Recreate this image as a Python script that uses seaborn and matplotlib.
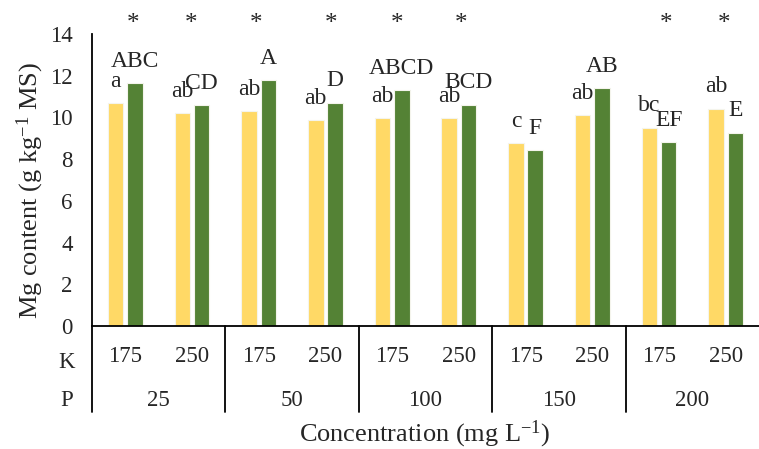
import matplotlib
matplotlib.use("Agg")
import matplotlib.pyplot as plt
import matplotlib.transforms as mtransforms
import seaborn as sns
import pandas as pd

# ---- data ----
P_levels = ["25", "50", "100", "150", "200"]
K_levels = ["175", "250"]
series_names = ["Series 1", "Series 2"]
yellow_vals = [10.68, 10.21, 10.31, 9.86, 9.97, 9.97, 8.77, 10.10, 9.51, 10.42]
green_vals = [11.66, 10.59, 11.79, 10.71, 11.31, 10.61, 8.44, 11.41, 8.81, 9.27]
lower_labels = ["a", "ab", "ab", "ab", "ab", "ab", "c", "ab", "bc", "ab"]
upper_labels = ["ABC", "CD", "A", "D", "ABCD", "BCD", "F", "AB", "EF", "E"]
star_flags = [1, 1, 1, 1, 1, 1, 0, 0, 1, 1]

# ---- layout / style ----
star_dx = [0.11, -0.01, -0.04, 0.08, 0.07, 0.04, 0.0, 0.0, 0.11, -0.02]
YELLOW = "#FFD966"
GREEN = "#548235"

sns.set_style("white")
plt.rcParams["font.family"] = ["Liberation Serif", "DejaVu Serif"]
plt.rcParams["mathtext.fontset"] = "custom"
plt.rcParams["mathtext.rm"] = "Liberation Serif"
plt.rcParams["mathtext.it"] = "Liberation Serif:italic"

slots = [f"P{p}-K{k}" for p in P_levels for k in K_levels]
df = pd.DataFrame({
    "slot": slots * 2,
    "value": yellow_vals + green_vals,
    "series": [series_names[0]] * len(slots) + [series_names[1]] * len(slots),
})

W, H = 759, 449
fig = plt.figure(figsize=(W / 100, H / 100), dpi=100)
ax_left, ax_bottom, ax_top = 92 / W, (H - 326) / H, (H - 34) / H
ax = fig.add_axes([ax_left, ax_bottom, 1 - ax_left, ax_top - ax_bottom])

sns.barplot(data=df, x="slot", y="value", hue="series", order=slots,
            hue_order=series_names, palette=[YELLOW, GREEN], saturation=1,
            width=0.58, gap=0.2, edgecolor="#f4f4ec", linewidth=0.8,
            legend=False, ax=ax)

TICK_FS = 16.5
LAB_FS = 17

ax.set_xlim(-0.5, len(slots) - 0.5)
ax.set_ylim(0, 14)
ax.set_yticks(range(0, 15, 2))
ax.tick_params(axis="y", length=0, pad=14, labelsize=TICK_FS)
ax.set_xticks([])
ax.set_xlabel("")
ax.set_ylabel("")
for s in ["top", "right"]:
    ax.spines[s].set_visible(False)
ax.spines["left"].set_color("black")
ax.spines["left"].set_linewidth(1.3)
ax.spines["bottom"].set_color("black")
ax.spines["bottom"].set_linewidth(1.3)

# bar labels, from bar patches
bars = [p for p in ax.patches]
n = len(slots)
ybars, gbars = bars[:n], bars[n:]
for i in range(n):
    yb, gb = ybars[i], gbars[i]
    ax.text(yb.get_x() + yb.get_width() / 2, yb.get_height() + 0.78,
            lower_labels[i], ha="center", va="baseline", fontsize=LAB_FS)
    ax.text(gb.get_x() + gb.get_width() / 2, gb.get_height() + 0.78,
            upper_labels[i], ha="center", va="baseline", fontsize=LAB_FS)
    if star_flags[i]:
        ax.text(i + star_dx[i], 14.2, "*", ha="center", va="baseline",
                fontsize=18, clip_on=False)

# category table below axis
trans = mtransforms.blended_transform_factory(ax.transData, ax.transAxes)
px = 1 / (326 - 34)  # axes fraction per pixel vertically
bottom_line = -(412 - 326) * px
for xb in [-0.5, 1.5, 3.5, 5.5, 7.5]:
    ax.plot([xb, xb], [0, bottom_line], color="black", lw=1.3,
            transform=trans, clip_on=False)
k_y = -(356 - 326) * px
p_y = -(400 - 326) * px
for i, s in enumerate(slots):
    ax.text(i, k_y, K_levels[i % 2], ha="center", va="center",
            fontsize=TICK_FS, transform=trans)
for j, p in enumerate(P_levels):
    ax.text(2 * j + 0.5, p_y, p, ha="center", va="center",
            fontsize=TICK_FS, transform=trans)

fig.text(67 / W, 1 - 362 / H, "K", ha="center", va="center", fontsize=TICK_FS)
fig.text(67 / W, 1 - 401 / H, "P", ha="center", va="center", fontsize=TICK_FS)

fig.text(425 / W, 1 - 434 / H, "Concentration (mg L$^{\\mathrm{-1}}$)",
         ha="center", va="center", fontsize=19)
fig.text(30 / W, 1 - 190 / H, "Mg content (g kg$^{\\mathrm{-1}}$ MS)",
         ha="center", va="center", rotation=90, fontsize=19)

fig.savefig("out.png", dpi=100)
